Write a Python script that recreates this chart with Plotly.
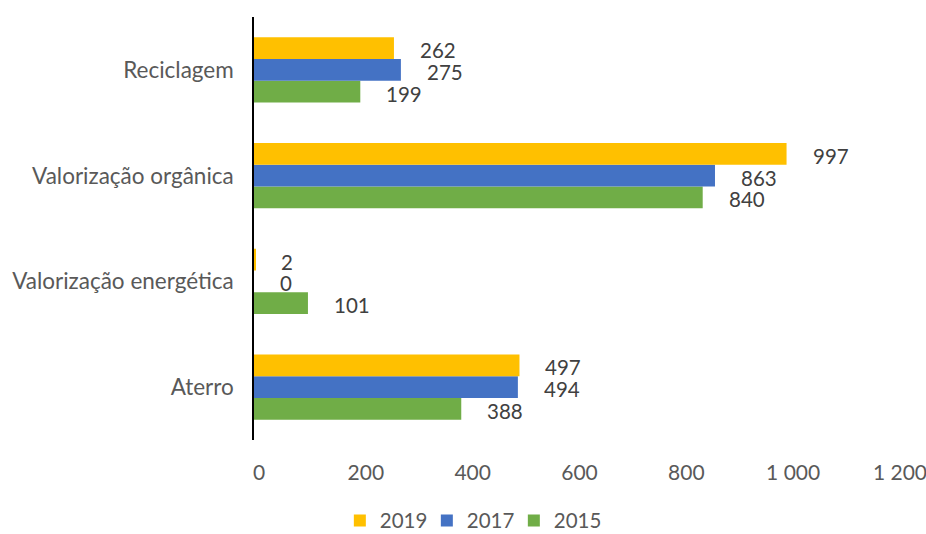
import plotly.graph_objects as go

# Categories listed bottom-to-top as they appear on the y axis
categories = ["Aterro", "Valorização energética", "Valorização orgânica", "Reciclagem"]
years = ["2015", "2017", "2019"]
values_2015 = [388, 101, 840, 199]
values_2017 = [494, 0, 863, 275]
values_2019 = [497, 2, 997, 262]
x_ticks = [0, 200, 400, 600, 800, 1000, 1200]

series = [values_2015, values_2017, values_2019]
colors = ["#70AD47", "#4472C4", "#FFC000"]

FONT = "Lato"
BARGAP = 0.384
n_series = len(series)
bar_w = (1 - BARGAP) / n_series

fig = go.Figure()
for name, vals, col in zip(years, series, colors):
    fig.add_trace(go.Bar(
        y=categories, x=vals, name=name, orientation="h",
        marker=dict(color=col, line=dict(width=0)),
    ))

# Value labels placed a fixed distance past each bar end
annotations = []
for k, vals in enumerate(series):
    for j, v in enumerate(vals):
        annotations.append(dict(
            x=v, y=j + (k - (n_series - 1) / 2) * bar_w,
            xref="x", yref="y", text=str(v), showarrow=False,
            xanchor="left", yanchor="middle", xshift=25, yshift=-2,
            borderpad=0,
            font=dict(family=FONT, size=20.5, color="#404040"),
        ))

fig.update_layout(
    width=926, height=534,
    margin=dict(l=254, r=31, t=17, b=94, autoexpand=False),
    paper_bgcolor="white", plot_bgcolor="white",
    barmode="group", bargap=BARGAP, bargroupgap=0,
    separators=", ",
    font=dict(family=FONT, size=20, color="#595959"),
    showlegend=True,
    legend=dict(
        orientation="h", traceorder="reversed",
        xref="container", yref="container",
        x=0.367, y=0.025, xanchor="left", yanchor="middle",
        entrywidth=42, entrywidthmode="pixels",
        font=dict(family=FONT, size=20.5, color="#595959"),
    ),
    annotations=annotations,
)
fig.update_xaxes(
    range=[0, 1200], tickvals=x_ticks, tickformat=",d",
    showgrid=False, zeroline=False, showline=False, automargin=False,
    ticks="", ticklabelstandoff=18, ticklabelshift=5,
    ticklabeloverflow="allow",
    tickfont=dict(family=FONT, size=21, color="#595959"),
)
fig.update_yaxes(
    categoryorder="array", categoryarray=categories,
    showgrid=False, zeroline=False, automargin=False,
    showline=True, linecolor="black", linewidth=1.5,
    ticks="", ticklabelstandoff=14,
    tickfont=dict(family=FONT, size=22.5, color="#595959"),
)

fig.write_html("out.html")
